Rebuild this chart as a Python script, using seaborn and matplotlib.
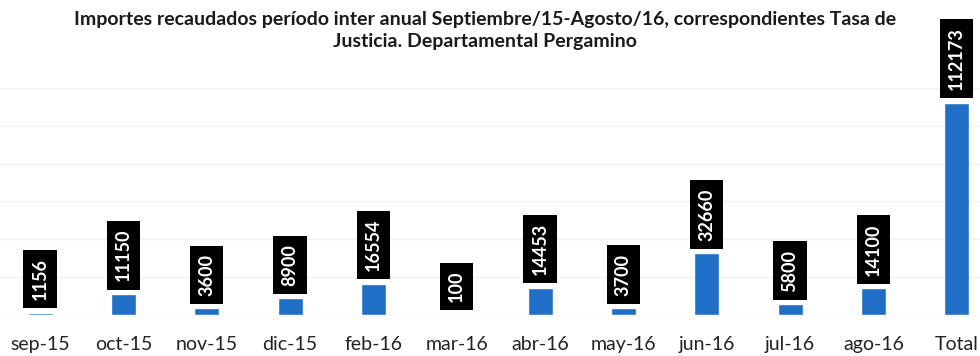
import matplotlib
matplotlib.use("Agg")
import matplotlib.pyplot as plt
import seaborn as sns
import pandas as pd

# Monthly collections (Tasa de Justicia), Pergamino department
months = ["sep-15", "oct-15", "nov-15", "dic-15", "feb-16", "mar-16",
          "abr-16", "may-16", "jun-16", "jul-16", "ago-16", "Total"]
amounts = [1156, 11150, 3600, 8900, 16554, 100,
           14453, 3700, 32660, 5800, 14100, 112173]

title = ("Importes recaudados período inter anual Septiembre/15-Agosto/16, correspondientes Tasa de\n"
         "Justicia. Departamental Pergamino")

sns.set_theme(style="white")
plt.rcParams["font.family"] = ["Lato", "DejaVu Sans"]

df = pd.DataFrame({"mes": months, "importe": amounts})

fig = plt.figure(figsize=(9.8, 3.56), dpi=100)
ax = fig.add_axes([0.0, 0.115, 1.0, 0.638])

sns.barplot(data=df, x="mes", y="importe", color="#1F6FC6", width=0.3,
            saturation=1, ax=ax)

ax.set_ylim(0, 120000)
ax.set_xlim(-0.48, 11.28)
ax.set_yticks(range(0, 120001, 20000))
ax.yaxis.grid(True, color="#f0f0f0", linewidth=1)
ax.set_axisbelow(True)
for s in ax.spines.values():
    s.set_visible(False)
ax.set_ylabel("")
ax.set_xlabel("")
ax.tick_params(axis="y", left=False, labelleft=False)
ax.tick_params(axis="x", bottom=False, labelsize=14, pad=9, colors="#222222")

for i, v in enumerate(amounts):
    ax.annotate(f"{v}", xy=(i, v), xytext=(0, 9), textcoords="offset points",
                rotation=90, ha="center", va="bottom", color="white",
                fontsize=13, fontweight="bold", annotation_clip=False,
                bbox=dict(boxstyle="square,pad=0.45", fc="black", ec="none"))

fig.text(0.495, 0.968, title, ha="center", va="top", fontsize=14,
         fontweight="bold", color="#1a1a1a", linespacing=1.3)

fig.savefig("out.png", dpi=100, facecolor="white")
